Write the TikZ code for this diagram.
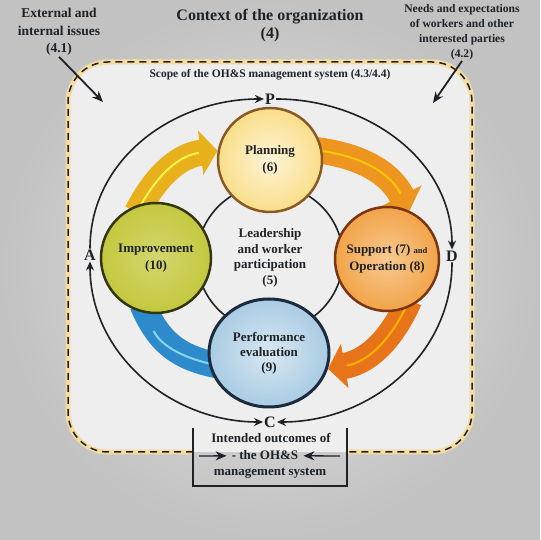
\documentclass[tikz,border=0pt]{standalone}
\usepackage{fontspec}
\setmainfont{Liberation Serif}
\usetikzlibrary{arrows.meta, shapes.geometric, positioning}
\definecolor{bgin}{HTML}{E2E2E2}
\definecolor{bgout}{HTML}{C2C2C2}
\definecolor{scopefill}{HTML}{EEEEEE}
\definecolor{glow}{HTML}{F6DCA0}
\definecolor{ink}{HTML}{1E2226}
\definecolor{plafill}{HTML}{F9DE8A}
\definecolor{plaedge}{HTML}{8A5A22}
\definecolor{impfill}{HTML}{C4C83E}
\definecolor{impedge}{HTML}{33360F}
\definecolor{supfill}{HTML}{F2A449}
\definecolor{supedge}{HTML}{7A3512}
\definecolor{perfill}{HTML}{A9CBE3}
\definecolor{peredge}{HTML}{1C2A3D}
\definecolor{yelband}{HTML}{E8B11C}
\definecolor{orgband}{HTML}{EE951F}
\definecolor{redband}{HTML}{E8741A}
\definecolor{bluband}{HTML}{2E8BCB}
\definecolor{blulite}{HTML}{86D6F2}
\pgfdeclarelayer{back}
\pgfdeclarelayer{mid}
\pgfsetlayers{back,mid,main}
\begin{document}
\begin{tikzpicture}[x=1pt,y=1pt,
    lab/.style={align=center,text=ink,inner sep=1pt,font=\bfseries\fontsize{13.5}{17.5}\selectfont},
    outl/.style={lab,anchor=base,font=\bfseries\fontsize{13}{15}\selectfont},
    phase/.style={circle,align=center,line width=2.5pt,text=ink,inner sep=1pt,font=\bfseries\fontsize{13}{16.5}\selectfont},
    pdca/.style={text=ink,inner sep=1pt,font=\bfseries\fontsize{16}{16}\selectfont},
    cyc/.style={draw=ink,line width=1.6pt,-{Stealth[length=9pt,width=8pt]}},
    band/.style={line width=26pt,-{Triangle[length=17pt,width=44pt]},shorten <=-10pt},
    stripe/.style={postaction={draw=#1,line width=2pt,-,shorten >=19pt}},
    hint/.style={draw=ink,line width=1.8pt,-{Stealth[length=11pt,width=9pt]}}]
    \useasboundingbox (0,0) rectangle (540,540);
    \begin{pgfonlayer}{back}
    \shade[inner color=bgin,outer color=bgout] (0,0) rectangle (540,540);
    \fill[scopefill,rounded corners=40pt] (68,88) rectangle (472,478);
    \draw[glow,line width=5pt,rounded corners=40pt] (193,88) -- (68,88) -- (68,478) -- (472,478) -- (472,88) -- (347,88);
    \draw[ink,line width=1.5pt,dash pattern=on 7pt off 5pt,rounded corners=40pt] (193,88) -- (68,88) -- (68,478) -- (472,478) -- (472,88) -- (347,88);
    \draw[ink,line width=1.5pt] (193,112) |- (347,54) -- (347,112);
    \end{pgfonlayer}

    \node (ttl) [lab,font=\bfseries\fontsize{16}{18}\selectfont] at (270,514) {Context of the organization\\(4)};
    \node (ext) [lab] at (59,508) {External and\\internal issues\\(4.1)};
    \node (nee) [lab,font=\bfseries\fontsize{11.6}{15}\selectfont] at (462,508) {Needs and expectations\\of workers and other\\interested parties\\(4.2)};
    \node (sco) [lab,font=\bfseries\fontsize{11.5}{12}\selectfont] at (270,465) {Scope of the OH\&S management system (4.3/4.4)};
    \coordinate (extin) at (103,438);
    \coordinate (neein) at (433,437);
    \draw[hint] (ext.south) -- (extin);
    \draw[hint] (nee.south) -- (neein);

    \node (lea) [circle,draw=ink,line width=1.6pt,minimum size=146pt,align=center,text=ink,font=\bfseries\fontsize{13}{15.7}\selectfont] at (270,282) {Leadership\\and worker\\participation\\(5)};
    \node (pla) [phase,draw=plaedge,inner color=plafill!35!white,outer color=plafill,minimum size=104pt] at (270,380) {Planning\\(6)};
    \node (imp) [phase,draw=impedge,inner color=impfill!75!white,outer color=impfill,minimum size=110pt] at (156,282) {Improvement\\(10)};
    \node (sup) [phase,draw=supedge,inner color=supfill!60!white,outer color=supfill,minimum size=104pt] at (387,281) {Support (7) {\fontsize{8.5}{8}\selectfont and}\\Operation (8)};
    \node (per) [phase,ellipse,draw=peredge,line width=3pt,inner color=perfill!45!white,outer color=perfill,minimum width=120pt,minimum height=108pt,font=\bfseries\fontsize{13}{15}\selectfont] at (269,187) {Performance\\evaluation\\(9)};

    \begin{pgfonlayer}{mid}
    \draw[band,yelband,stripe=yellow!70] (imp.105) to[bend left=28] (pla.170);
    \draw[band,orgband,stripe=yellow!60!orange] (pla.10) to[bend left=28] (sup.65);
    \draw[band,redband,stripe=orange!60!yellow] (sup.-70) to[bend left=28] (per.-15);
    \draw[band,bluband,-,shorten >=-10pt,stripe=blulite] (per.190) to[bend left=28] (imp.-100);
    \end{pgfonlayer}

    \node (P) [pdca] at (270,441) {P};
    \node (D) [pdca] at (452,284) {D};
    \node (C) [pdca] at (270,118) {C};
    \node (A) [pdca] at (90,285) {A};
    \draw[cyc] (A.north) to[out=90,in=180] (P.west);
    \draw[cyc] (P.east) to[out=0,in=90] (D.north);
    \draw[cyc] (D.south) to[out=-90,in=0] (C.east);
    \draw[cyc,{Stealth[length=9pt,width=8pt]}-{Stealth[length=9pt,width=8pt]}] (C.west) to[out=180,in=-90] (A.south);

    \node (outa) [outl] at (271,97) {Intended outcomes of};
    \node (outb) [outl] at (265,80) {- the OH\&S};
    \node (outc) [outl] at (270,64) {management system};
    \coordinate (inl) at (199,84);
    \coordinate (inr) at (340,84);
    \draw[hint,line width=1.3pt,shorten >=4pt] (inl) -- (outb);
    \draw[hint,line width=1.3pt,shorten >=4pt] (inr) -- (outb);
\end{tikzpicture}
\end{document}
